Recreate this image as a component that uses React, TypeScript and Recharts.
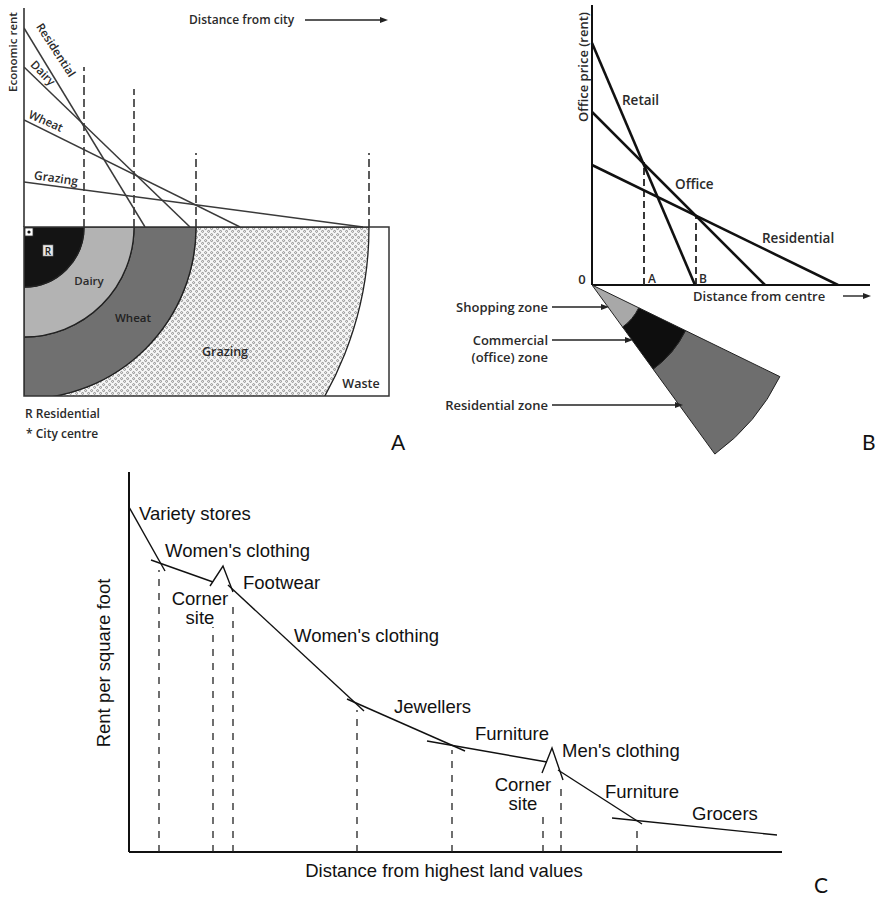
import { LineChart, Line, XAxis, YAxis, ReferenceLine, PieChart, Pie } from "recharts";

// ---- A: von Thünen bid-rent (x = distance from centre, y = rent) ----
const aUses = ["Residential", "Dairy", "Wheat", "Grazing"];
const aRentAtCentre = [199, 160, 107, 45];
const aMaxDistance = [121, 166, 216, 339];
const aBoundary = [60, 110, 172, 345];
const aBoundaryTop = [160, 138, 74, 74];
const aFills = ["#141414", "#b3b3b3", "#707070", "url(#stipple)"];

// ---- B: urban bid-rent ----
const bUses = ["Retail", "Office", "Residential"];
const bRentAtCentre = [242, 173, 120];
const bMaxDistance = [103, 173, 246];
const bBoundary = [52, 104];
const bBoundaryTop = [123, 70];
const bZoneOuter = [52, 104, 209];
const bFills = ["#a8a8a8", "#0e0e0e", "#6e6e6e"];

// ---- C: rent per square foot along a shopping street ----
const cSegX = [
  [0, 36],
  [22, 84],
  [81, 94, 104],
  [99, 235],
  [218, 336],
  [298, 418],
  [413, 423, 434],
  [429, 513],
  [483, 648],
];
const cSegY = [
  [345, 281],
  [292, 270],
  [266, 286, 260],
  [267, 141],
  [153, 101],
  [111, 90],
  [79, 104, 72],
  [82, 28],
  [34, 17],
];
const cDividerX = [30, 84, 104, 228, 323, 414, 432, 508];
const cDividerTop = [282, 225, 249, 142, 102, 39, 67, 27];

const M = 4;
const FA = "'Open Sans', 'DejaVu Sans', sans-serif";
const FC = "'Liberation Sans', Arial, sans-serif";

function box(left: number, top: number, w: number, h: number) {
  return {
    position: "absolute" as const,
    left: left - M,
    top: top - M,
    width: w + 2 * M,
    height: h + 2 * M,
  };
}

const margin = { top: M, right: M, bottom: M, left: M };

function PanelA() {
  const lines = aUses.map((name, i) => ({
    name,
    points: [
      { x: 0, y: aRentAtCentre[i] },
      { x: aMaxDistance[i], y: 0 },
    ],
  }));
  let inner = 0;
  const rings = aUses.map((name, i) => {
    const r = { name, inner, outer: aBoundary[i], fill: aFills[i] };
    inner = aBoundary[i];
    return r;
  });
  return (
    <>
      <div style={box(24, 8, 365, 219)}>
        <LineChart width={373} height={227} margin={margin}>
          <XAxis type="number" dataKey="x" domain={[0, 365]} hide allowDataOverflow />
          <YAxis type="number" dataKey="y" domain={[0, 219]} hide allowDataOverflow />
          <ReferenceLine x={0} stroke="#333" strokeWidth={1.6} />
          {aBoundary.map((b, i) => (
            <ReferenceLine
              key={b}
              segment={[{ x: b, y: 0 }, { x: b, y: aBoundaryTop[i] }]}
              stroke="#333"
              strokeWidth={1.6}
              strokeDasharray="8 4"
            />
          ))}
          {lines.map((l) => (
            <Line
              key={l.name}
              data={l.points}
              dataKey="y"
              stroke="#3a3a3a"
              strokeWidth={1.5}
              dot={false}
              isAnimationActive={false}
            />
          ))}
        </LineChart>
      </div>
      <div style={{ position: "absolute", left: 24, top: 227, width: 365, height: 169, overflow: "hidden" }}>
        <PieChart width={365} height={169} margin={{ top: 0, right: 0, bottom: 0, left: 0 }}>
          <defs>
            <pattern id="stipple" width="6" height="6" patternUnits="userSpaceOnUse">
              <rect width="6" height="6" fill="#f7f7f7" />
              <circle cx="1.6" cy="1.6" r="1" fill="none" stroke="#6a6a6a" strokeWidth="0.7" />
              <circle cx="4.6" cy="4.4" r="1" fill="none" stroke="#6a6a6a" strokeWidth="0.7" />
            </pattern>
          </defs>
          {rings
            .slice()
            .reverse()
            .map((r) => (
              <Pie
                key={r.name}
                data={[{ value: 1 }]}
                dataKey="value"
                cx={0}
                cy={0}
                innerRadius={r.inner}
                outerRadius={r.outer}
                startAngle={0}
                endAngle={-90}
                fill={r.fill}
                stroke="#222"
                strokeWidth={1.3}
                isAnimationActive={false}
              />
            ))}
        </PieChart>
      </div>
    </>
  );
}

function PanelB() {
  const lines = bUses.map((name, i) => ({
    name,
    points: [
      { x: 0, y: bRentAtCentre[i] },
      { x: bMaxDistance[i], y: 0 },
    ],
  }));
  let inner = 0;
  const zones = bZoneOuter.map((outer, i) => {
    const z = { inner, outer, fill: bFills[i] };
    inner = outer;
    return z;
  });
  return (
    <>
      <div style={box(592, 5, 278, 280)}>
        <LineChart width={286} height={288} margin={margin}>
          <XAxis type="number" dataKey="x" domain={[0, 278]} hide allowDataOverflow />
          <YAxis type="number" dataKey="y" domain={[0, 280]} hide allowDataOverflow />
          <ReferenceLine x={0} stroke="#111" strokeWidth={2} />
          <ReferenceLine y={0} stroke="#111" strokeWidth={2} />
          {bBoundary.map((b, i) => (
            <ReferenceLine
              key={b}
              segment={[{ x: b, y: 0 }, { x: b, y: bBoundaryTop[i] }]}
              stroke="#222"
              strokeWidth={1.8}
              strokeDasharray="7 4"
            />
          ))}
          {lines.map((l) => (
            <Line
              key={l.name}
              data={l.points}
              dataKey="y"
              stroke="#111"
              strokeWidth={2.6}
              dot={false}
              isAnimationActive={false}
            />
          ))}
        </LineChart>
      </div>
      <div style={{ position: "absolute", left: 592, top: 285, width: 260, height: 170, overflow: "hidden" }}>
        <PieChart width={260} height={170} margin={{ top: 0, right: 0, bottom: 0, left: 0 }}>
          {zones
            .slice()
            .reverse()
            .map((z, i) => (
              <Pie
                key={i}
                data={[{ value: 1 }]}
                dataKey="value"
                cx={0}
                cy={0}
                innerRadius={z.inner}
                outerRadius={z.outer}
                startAngle={-26}
                endAngle={-54}
                fill={z.fill}
                stroke="#222"
                strokeWidth={1}
                isAnimationActive={false}
              />
            ))}
        </PieChart>
      </div>
    </>
  );
}

function PanelC() {
  const segs = cSegX.map((xs, i) => xs.map((x, j) => ({ x, y: cSegY[i][j] })));
  return (
    <div style={box(129, 472, 653, 380)}>
      <LineChart width={661} height={388} margin={margin}>
        <XAxis type="number" dataKey="x" domain={[0, 653]} hide allowDataOverflow />
        <YAxis type="number" dataKey="y" domain={[0, 380]} hide allowDataOverflow />
        <ReferenceLine x={0} stroke="#111" strokeWidth={2} />
        <ReferenceLine y={0} stroke="#111" strokeWidth={2} />
        {cDividerX.map((d, i) => (
          <ReferenceLine
            key={d}
            segment={[{ x: d, y: 0 }, { x: d, y: cDividerTop[i] }]}
            stroke="#222"
            strokeWidth={1.3}
            strokeDasharray="7 7"
          />
        ))}
        {segs.map((s, i) => (
          <Line
            key={i}
            data={s}
            dataKey="y"
            stroke="#111"
            strokeWidth={1.4}
            dot={false}
            isAnimationActive={false}
          />
        ))}
      </LineChart>
    </div>
  );
}

function Rot({ x, y, a, size, children, anchor = "middle", family = FA, weight = 600 }: any) {
  return (
    <text
      transform={`translate(${x},${y}) rotate(${a})`}
      y={size * 0.36}
      textAnchor={anchor}
      fontSize={size}
      fontFamily={family}
      fontWeight={weight}
      fill="#2a2a2a"
    >
      {children}
    </text>
  );
}

function Arrow({ x1, x2, y, color = "#222", w = 1.4 }: any) {
  return (
    <g>
      <line x1={x1} y1={y} x2={x2 - 6} y2={y} stroke={color} strokeWidth={w} />
      <polygon points={`${x2},${y} ${x2 - 8},${y - 3} ${x2 - 8},${y + 3}`} fill={color} />
    </g>
  );
}

function Overlay() {
  const ta = { fontFamily: FA, fontWeight: 600, fill: "#2a2a2a" };
  const tc = { fontFamily: FC, fontSize: 18.5, fill: "#111" };
  return (
    <svg
      width={886}
      height={902}
      style={{ position: "absolute", left: 0, top: 0, pointerEvents: "none" }}
    >
      {/* Panel A */}
      <Rot x={13} y={52} a={-90} size={11.5}>Economic rent</Rot>
      <text x={189} y={24} fontSize={12} {...ta}>Distance from city</text>
      <Arrow x1={305} x2={388} y={20} />
      <Rot x={56} y={50} a={57} size={11.5}>Residential</Rot>
      <Rot x={43} y={73} a={46} size={11.5}>Dairy</Rot>
      <Rot x={46} y={121} a={24} size={11.5}>Wheat</Rot>
      <Rot x={56} y={178} a={8} size={12}>Grazing</Rot>
      <rect x={24} y={227} width={365} height={169} fill="none" stroke="#333" strokeWidth={1.5} />
      <rect x={25} y={228} width={8} height={8} fill="#fff" stroke="#333" strokeWidth={0.8} />
      <circle cx={29} cy={232} r={1.6} fill="#111" />
      <rect x={43} y={245} width={10} height={11} fill="#e8e8e8" stroke="#888" strokeWidth={0.6} />
      <text x={48} y={254.5} fontSize={10} textAnchor="middle" fontFamily={FA} fontWeight={600} fill="#222">R</text>
      <text x={89} y={285} fontSize={11.5} textAnchor="middle" {...ta}>Dairy</text>
      <text x={133} y={322} fontSize={11.5} textAnchor="middle" {...ta} fill="#222">Wheat</text>
      <text x={225} y={356} fontSize={12.5} textAnchor="middle" {...ta}>Grazing</text>
      <text x={361} y={388} fontSize={12.5} textAnchor="middle" {...ta}>Waste</text>
      <text x={25} y={418} fontSize={12} {...ta}>R  Residential</text>
      <text x={26} y={438} fontSize={12} {...ta}>*  City centre</text>
      <text x={391} y={450} fontSize={21} fontFamily="Lato, 'Open Sans', sans-serif" fill="#111">A</text>

      {/* Panel B */}
      <Rot x={583} y={67} a={-90} size={13}>Office price (rent)</Rot>
      <text x={622} y={105} fontSize={13.5} {...ta}>Retail</text>
      <text x={675} y={189} fontSize={13.5} {...ta}>Office</text>
      <text x={762} y={243} fontSize={13.5} {...ta}>Residential</text>
      <text x={582} y={284} fontSize={13} textAnchor="middle" {...ta}>0</text>
      <text x={648} y={283} fontSize={12} {...ta}>A</text>
      <text x={699} y={283} fontSize={12} {...ta}>B</text>
      <text x={693} y={301} fontSize={13} {...ta}>Distance from centre</text>
      <Arrow x1={843} x2={871} y={296} />
      <text x={548} y={312} fontSize={13} textAnchor="end" {...ta}>Shopping zone</text>
      <Arrow x1={552} x2={609} y={307} />
      <text x={548} y={345} fontSize={13} textAnchor="end" {...ta}>Commercial</text>
      <text x={548} y={362} fontSize={13} textAnchor="end" {...ta}>(office) zone</text>
      <Arrow x1={552} x2={633} y={340} />
      <text x={548} y={410} fontSize={13} textAnchor="end" {...ta}>Residential zone</text>
      <Arrow x1={552} x2={683} y={405} />
      <text x={862} y={450} fontSize={21} fontFamily="Lato, 'Open Sans', sans-serif" fill="#111">B</text>

      {/* Panel C */}
      <text x={139} y={520} {...tc}>Variety stores</text>
      <text x={165} y={557} {...tc}>Women's clothing</text>
      <text x={243} y={589} {...tc}>Footwear</text>
      <text x={200} y={605} textAnchor="middle" {...tc}>Corner</text>
      <text x={200} y={624} textAnchor="middle" {...tc}>site</text>
      <text x={294} y={642} {...tc}>Women's clothing</text>
      <text x={394} y={713} {...tc}>Jewellers</text>
      <text x={475} y={740} {...tc}>Furniture</text>
      <text x={562} y={757} {...tc}>Men's clothing</text>
      <text x={523} y={791} textAnchor="middle" {...tc}>Corner</text>
      <text x={523} y={810} textAnchor="middle" {...tc}>site</text>
      <text x={605} y={798} {...tc}>Furniture</text>
      <text x={692} y={820} {...tc}>Grocers</text>
      <text transform="translate(110,663) rotate(-90)" textAnchor="middle" {...tc}>Rent per square foot</text>
      <text x={444} y={877} textAnchor="middle" {...tc}>Distance from highest land values</text>
      <text x={814} y={893} fontSize={21} fontFamily="Lato, 'Open Sans', sans-serif" fill="#111">C</text>
    </svg>
  );
}

export default function App() {
  return (
    <div
      style={{
        position: "absolute",
        left: 0,
        top: 0,
        width: 886,
        height: 902,
        background: "#fff",
        overflow: "hidden",
      }}
    >
      <PanelA />
      <PanelB />
      <PanelC />
      <Overlay />
    </div>
  );
}
